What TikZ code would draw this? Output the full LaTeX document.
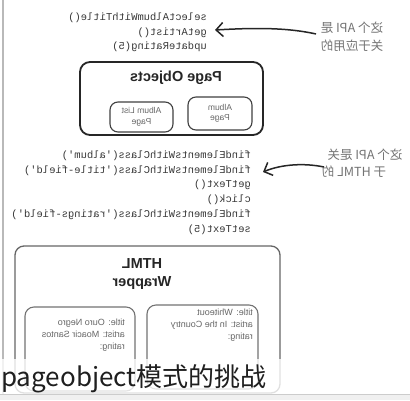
\documentclass[tikz,border=0pt]{standalone}
\usepackage{fontspec}
\setmainfont{Liberation Sans}
\newfontfamily\codefont{Liberation Mono}
\newfontfamily\cjkfont{Noto Sans CJK SC}
\usetikzlibrary{arrows.meta}
\begin{document}
\begin{tikzpicture}[x=1pt,y=-1pt,
  code/.style={font=\codefont\fontsize{10.5}{14.8}\selectfont, text=black!78, align=left, inner sep=0pt, anchor=north west},
  lab/.style={font=\cjkfont\fontsize{12.5}{18}\selectfont, text=black!55, inner sep=0pt},
  pobox/.style={draw=black!85, line width=1.8pt, rounded corners=10pt},
  inbox/.style={draw=black!75, line width=1.1pt, rounded corners=8pt, align=center, font=\fontsize{8.5}{10.5}\selectfont, text=black!60, inner sep=0pt},
  title/.style={font=\bfseries\fontsize{14.5}{18.5}\selectfont, text=black!85, align=center, inner sep=0pt},
  hbox/.style={draw=black!60, line width=1.3pt, rounded corners=9pt},
  hin/.style={draw=black!55, line width=1.1pt, rounded corners=9pt},
  itext/.style={font=\fontsize{9}{12}\selectfont, text=black!60, align=left, inner sep=0pt, anchor=north west},
  arr/.style={draw=black!85, line width=1.5pt, -{Straight Barb[length=7pt,width=14pt]}},
  caption/.style={font=\cjkfont\fontsize{26}{30}\selectfont, text=black!88, inner sep=0pt, anchor=base west}
]
\useasboundingbox (0,0) rectangle (410,400);
\fill[white] (0,0) rectangle (410,400);
\draw[gray!55, line width=1.5pt] (3,0) -- (3,394);

\begin{scope}[x=-1pt, xscale=-1, transform shape]
  % code block 1
  \node[code] (code1) at (207,12.5) {selectAlbumWithTitle()\\getArtist()\\updateRating(5)};
  % label 1
  \node[lab, align=center] (lab1) at (352,37) {这个 API 是\\关于应用的};
  % Page objects
  \node[pobox, minimum width=183pt, minimum height=73pt] (po) at (171.5,98.5) {};
  \node[title] (potitle) at (176,78) {Page Objects};
  \node[inbox, minimum width=63pt, minimum height=30pt] (alp) at (141.5,117) {Album List\\Page};
  \node[inbox, minimum width=64pt, minimum height=33pt] (ap) at (220,113.5) {Album\\Page};
  % code block 2
  \node[code] (code2) at (251,150.5) {findElementsWithClass('album')\\findElementsWithClass('title-field')\\getText()\\click()\\findElementsWithClass('ratings-field')\\setText(5)};
  % label 2
  \node[lab] (lab2a) at (365,155) {这个 API 是关};
  \node[lab] (lab2b) at (354,172) {于 HTML 的};
  % HTML wrapper
  \node[hbox, minimum width=265pt, minimum height=147pt] (hw) at (147.5,319.5) {};
  \node[title] (hwtitle) at (142,274) {HTML\\Wrapper};
  \node[hin, minimum width=110pt, minimum height=84pt] (hl) at (80,349) {};
  \node[hin, minimum width=111pt, minimum height=84pt] (hr) at (202.5,347) {};
  \node[itext] (hlt) at (125,318.5) {title: Ouro Negro\\artist: Moacir Santos\\rating:};
  \node[itext] (hrt) at (253,308.5) {title: Whiteout\\artist: In the Country\\rating:};
\end{scope}

% arrows
\coordinate (a1s) at (316,34);
\coordinate (a1e) at (215,30);
\draw[arr] (a1s) .. controls (285,27) and (250,28) .. (a1e);
\coordinate (a2s) at (324,167);
\coordinate (a2e) at (263,172);
\draw[arr] (a2s) .. controls (305,163) and (282,164) .. (a2e);

% caption band
\fill[white, opacity=0.8] (0,359) rectangle (281,394);
\fill[gray!12] (0,394) rectangle (410,400);
\draw[gray!40, line width=0.6pt] (0,394) -- (410,394);
\node[caption] (cap) at (1,386) {pageobject模式的挑战};
\end{tikzpicture}
\end{document}
